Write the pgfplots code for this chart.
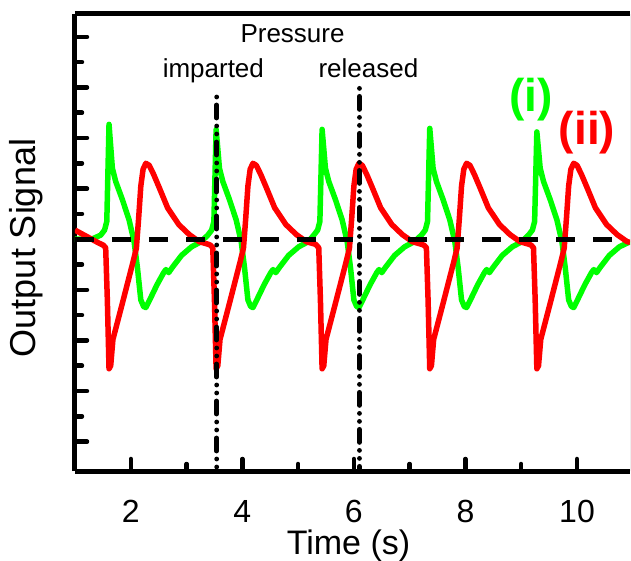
\documentclass[border=0pt]{standalone}
\usepackage{fontspec}
\setmainfont{Liberation Sans}
\usepackage{pgfplots}
\pgfplotsset{compat=1.18}
\definecolor{sgreen}{RGB}{0,255,0}
\definecolor{sred}{RGB}{255,0,0}
\begin{document}
\begin{tikzpicture}
\begin{axis}[
  scale only axis, width=555bp, height=457bp,
  xmin=1, xmax=10.95, ymin=-4.58, ymax=4.45,
  axis x line*=box, axis y line*=left,
  axis line style={line width=5bp, black},
  xtick={2,4,6,8,10}, minor x tick num=1,
  ytick={-4,-3,-2,-1,0,1,2,3,4}, minor y tick num=1, yticklabels={},
  xtick pos=left, ytick pos=left,
  tick align=inside,
  major tick length=12bp, minor tick length=7bp,
  every tick/.style={black, line width=4.5bp, line cap=round},
  /pgf/number format/assume math mode=true,
  xticklabel style={font=\fontsize{32bp}{33bp}\selectfont, anchor=base, inner sep=0pt, yshift=-51bp},
  xlabel={Time (s)},
  xlabel style={at={(axis description cs:0.4928,0)}, anchor=base, inner sep=0pt, yshift=-83bp, font=\fontsize{34bp}{36bp}\selectfont},
  ylabel={Output Signal},
  ylabel style={at={(axis description cs:-0.0875,0.488)}, anchor=center, inner sep=0pt, font=\fontsize{36bp}{38bp}\selectfont},
]
% green (i)
\addplot[sgreen, line width=5.5bp, line join=round] coordinates {
(1.00,0.00) (1.30,0.00)
(1.46,0.08) (1.53,0.18) (1.57,0.35) (1.61,2.27) (1.67,1.40) (1.73,1.14) (1.85,0.78) (1.97,0.38) (2.06,-0.05) (2.12,-0.57) (2.18,-1.20) (2.23,-1.33) (2.27,-1.35) (2.33,-1.22) (2.47,-0.90) (2.59,-0.66) (2.63,-0.60) (2.68,-0.66) (2.75,-0.55) (2.91,-0.32) (3.09,-0.15) (3.26,-0.05)
(3.38,0.08) (3.45,0.18) (3.49,0.35) (3.53,2.17) (3.59,1.40) (3.65,1.14) (3.77,0.78) (3.89,0.38) (3.98,-0.05) (4.04,-0.57) (4.10,-1.20) (4.15,-1.33) (4.19,-1.35) (4.25,-1.22) (4.39,-0.90) (4.51,-0.66) (4.55,-0.60) (4.60,-0.66) (4.67,-0.55) (4.83,-0.32) (5.01,-0.15) (5.18,-0.05)
(5.28,0.08) (5.35,0.18) (5.39,0.35) (5.43,2.17) (5.49,1.40) (5.55,1.14) (5.67,0.78) (5.79,0.38) (5.88,-0.05) (5.94,-0.57) (6.00,-1.20) (6.05,-1.33) (6.09,-1.35) (6.15,-1.22) (6.29,-0.90) (6.41,-0.66) (6.45,-0.60) (6.50,-0.66) (6.57,-0.55) (6.73,-0.32) (6.91,-0.15) (7.08,-0.05)
(7.21,0.08) (7.28,0.18) (7.32,0.35) (7.36,2.19) (7.42,1.40) (7.48,1.14) (7.60,0.78) (7.72,0.38) (7.81,-0.05) (7.87,-0.57) (7.93,-1.20) (7.98,-1.33) (8.02,-1.35) (8.08,-1.22) (8.22,-0.90) (8.34,-0.66) (8.38,-0.60) (8.43,-0.66) (8.50,-0.55) (8.66,-0.32) (8.84,-0.15) (9.01,-0.05)
(9.13,0.08) (9.20,0.18) (9.24,0.35) (9.28,2.12) (9.34,1.40) (9.40,1.14) (9.52,0.78) (9.64,0.38) (9.73,-0.05) (9.79,-0.57) (9.85,-1.20) (9.90,-1.33) (9.94,-1.35) (10.00,-1.22) (10.14,-0.90) (10.26,-0.66) (10.30,-0.60) (10.35,-0.66) (10.42,-0.55) (10.58,-0.32) (10.76,-0.15) (10.95,-0.05)
};
% red (ii)
\addplot[sred, line width=5.5bp, line join=round] coordinates {
(1.00,0.18) (1.20,0.06) (1.40,-0.06)
(1.51,-0.12) (1.55,-0.17) (1.58,-1.20) (1.61,-2.56) (1.64,-2.50) (1.68,-1.98) (1.86,-1.22) (2.04,-0.45) (2.10,-0.18) (2.14,0.40) (2.18,1.05) (2.22,1.38) (2.27,1.50) (2.33,1.46) (2.41,1.28) (2.51,1.02) (2.66,0.62) (2.86,0.29) (3.05,0.09) (3.23,-0.05) (3.39,-0.10)
(3.43,-0.12) (3.47,-0.17) (3.50,-1.20) (3.53,-2.56) (3.56,-2.50) (3.60,-1.98) (3.78,-1.22) (3.96,-0.45) (4.02,-0.18) (4.06,0.40) (4.10,1.05) (4.14,1.38) (4.19,1.50) (4.25,1.46) (4.33,1.28) (4.43,1.02) (4.58,0.62) (4.78,0.29) (4.97,0.09) (5.15,-0.05) (5.31,-0.10)
(5.33,-0.12) (5.37,-0.17) (5.40,-1.20) (5.43,-2.56) (5.46,-2.50) (5.50,-1.98) (5.68,-1.22) (5.86,-0.45) (5.92,-0.18) (5.96,0.40) (6.00,1.05) (6.04,1.38) (6.09,1.50) (6.15,1.46) (6.23,1.28) (6.33,1.02) (6.48,0.62) (6.68,0.29) (6.87,0.09) (7.05,-0.05) (7.21,-0.10)
(7.26,-0.12) (7.30,-0.17) (7.33,-1.20) (7.36,-2.56) (7.39,-2.50) (7.43,-1.98) (7.61,-1.22) (7.79,-0.45) (7.85,-0.18) (7.89,0.40) (7.93,1.05) (7.97,1.38) (8.02,1.50) (8.08,1.46) (8.16,1.28) (8.26,1.02) (8.41,0.62) (8.61,0.29) (8.80,0.09) (8.98,-0.05) (9.14,-0.10)
(9.18,-0.12) (9.22,-0.17) (9.25,-1.20) (9.28,-2.56) (9.31,-2.50) (9.35,-1.98) (9.53,-1.22) (9.71,-0.45) (9.77,-0.18) (9.81,0.40) (9.85,1.05) (9.89,1.38) (9.94,1.50) (10.00,1.46) (10.08,1.28) (10.18,1.02) (10.33,0.62) (10.53,0.29) (10.72,0.09) (10.90,-0.05) (10.95,-0.06)
};
% baseline
\addplot[black, line width=5bp, dash pattern=on 19bp off 18bp] coordinates {(1,0) (10.95,0)};
% pressure lines
\addplot[black, line width=4.8bp, line cap=round, dash pattern=on 0bp off 8bp on 13bp off 8bp on 0bp off 8bp] coordinates {(3.54,2.81) (3.54,-4.58)};
\addplot[black, line width=4.8bp, line cap=round, dash pattern=on 0bp off 8bp on 13bp off 8bp on 0bp off 8bp] coordinates {(6.10,2.98) (6.10,-4.58)};
\node[anchor=base, font=\fontsize{26bp}{28bp}\selectfont, inner sep=0pt] at (axis cs:4.90,3.89) {Pressure};
\node[anchor=base, font=\fontsize{26bp}{28bp}\selectfont, inner sep=0pt] at (axis cs:3.48,3.20) {imparted};
\node[anchor=base, font=\fontsize{26bp}{28bp}\selectfont, inner sep=0pt] at (axis cs:6.26,3.20) {released};
\node[anchor=center, text=sgreen, font=\fontsize{46bp}{48bp}\selectfont\bfseries, inner sep=0pt] at (axis cs:9.18,2.75) {(i)};
\node[anchor=center, text=sred, font=\fontsize{46bp}{48bp}\selectfont\bfseries, inner sep=0pt] at (axis cs:10.18,2.10) {(ii)};
\draw[gray, line width=1bp] (rel axis cs:1,0) -- (rel axis cs:1,1);
\end{axis}
\pgfresetboundingbox
\useasboundingbox (-75bp,-90bp) rectangle (556bp,471bp);
\end{tikzpicture}
\end{document}
